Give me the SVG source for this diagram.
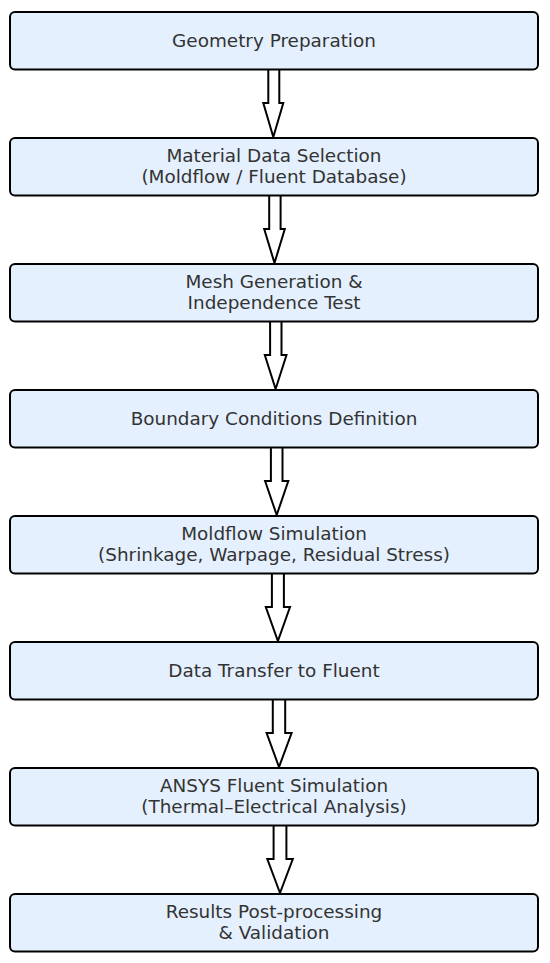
<svg xmlns="http://www.w3.org/2000/svg" width="550" height="963" viewBox="0 0 550 963">
<style>
.box{fill:#e4f0fd;stroke:#000;stroke-width:2}
.lbl{font-family:"DejaVu Sans",sans-serif;font-size:18.4px;fill:#333;text-anchor:middle}
.arr{fill:#fff;stroke:#000;stroke-width:2;stroke-linejoin:miter}
</style>
<rect width="550" height="963" fill="#fff"/>
<g id="connectors">
<polygon class="arr" points="268.3,69 279.3,69 279.3,103 283.3,103 273.3,137 263.3,103 268.3,103"/>
<polygon class="arr" points="269.2,195 280.6,195 280.6,229 284.8,229 274.5,263 264.2,229 269.2,229"/>
<polygon class="arr" points="270.1,321 281.5,321 281.5,355 286.5,355 275.6,389 264.8,355 270.1,355"/>
<polygon class="arr" points="270.9,447 282.5,447 282.5,481 288.3,481 276.7,515 265.1,481 270.9,481"/>
<polygon class="arr" points="271.9,573 283.9,573 283.9,607 290,607 277.9,641 265.8,607 271.9,607"/>
<polygon class="arr" points="272.8,699 285.2,699 285.2,733 291.6,733 279,767 266.6,733 272.8,733"/>
<polygon class="arr" points="273.6,825 286.4,825 286.4,859 292.8,859 280,893 267.3,859 273.6,859"/>
</g>
<g id="n1"><rect class="box" x="10" y="12" width="528" height="57.5" rx="5"/><text class="lbl" x="274" y="46.5">Geometry Preparation</text></g>
<g id="n2"><rect class="box" x="10" y="138" width="528" height="57.5" rx="5"/><text class="lbl" x="274" y="162">Material Data Selection</text><text class="lbl" x="274" y="182.5">(Moldflow / Fluent Database)</text></g>
<g id="n3"><rect class="box" x="10" y="264" width="528" height="57.5" rx="5"/><text class="lbl" x="274" y="288">Mesh Generation &amp;</text><text class="lbl" x="274" y="308.5">Independence Test</text></g>
<g id="n4"><rect class="box" x="10" y="390" width="528" height="57.5" rx="5"/><text class="lbl" x="274" y="424.5">Boundary Conditions Definition</text></g>
<g id="n5"><rect class="box" x="10" y="516" width="528" height="57.5" rx="5"/><text class="lbl" x="274" y="540">Moldflow Simulation</text><text class="lbl" x="274" y="560.5">(Shrinkage, Warpage, Residual Stress)</text></g>
<g id="n6"><rect class="box" x="10" y="642" width="528" height="57.5" rx="5"/><text class="lbl" x="274" y="676.5">Data Transfer to Fluent</text></g>
<g id="n7"><rect class="box" x="10" y="768" width="528" height="57.5" rx="5"/><text class="lbl" x="274" y="792">ANSYS Fluent Simulation</text><text class="lbl" x="274" y="812.5">(Thermal–Electrical Analysis)</text></g>
<g id="n8"><rect class="box" x="10" y="894" width="528" height="57.5" rx="5"/><text class="lbl" x="274" y="918">Results Post-processing</text><text class="lbl" x="274" y="938.5">&amp; Validation</text></g>
</svg>
